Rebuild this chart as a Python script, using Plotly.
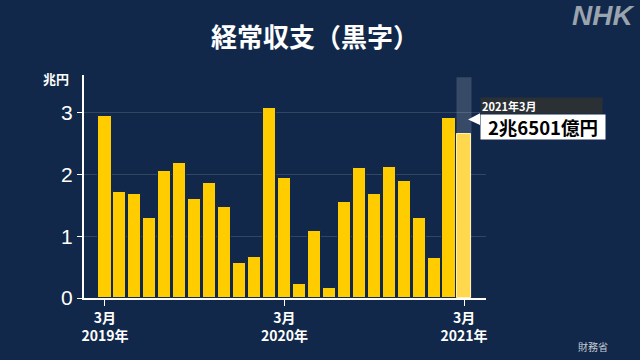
import plotly.graph_objects as go

months = list(range(25))  # 2019-03 .. 2021-03
values = [2.94, 1.71, 1.69, 1.30, 2.06, 2.18, 1.60, 1.86, 1.47, 0.56, 0.67,
          3.07, 1.94, 0.22, 1.08, 0.16, 1.55, 2.10, 1.68, 2.12, 1.90, 1.29,
          0.65, 2.92, 2.6501]
tick_vals = [0, 12, 24]
tick_text = ["<b>3月</b><br><b>2019年</b>", "<b>3月</b><br><b>2020年</b>", "<b>3月</b><br><b>2021年</b>"]
y_ticks = [0, 1, 2, 3]

BG = "#11284a"
FONT = "Noto Sans CJK JP"

colors = ["#ffcc00"] * (len(values) - 1) + ["#ffd84d"]
line_colors = [BG] * (len(values) - 1) + ["#fff2c0"]

fig = go.Figure()
fig.add_trace(go.Bar(
    x=months, y=values, width=0.88,
    marker=dict(color=colors, line=dict(color=line_colors, width=1)),
    hoverinfo="skip",
))

last_x = months[-1]
fig.add_shape(type="rect", xref="x", yref="paper", x0=last_x - 0.5, x1=last_x + 0.5,
              y0=0, y1=0.99, fillcolor="rgba(255,255,255,0.16)", line_width=0, layer="below")

fig.update_layout(
    width=640, height=360,
    paper_bgcolor=BG, plot_bgcolor=BG,
    margin=dict(l=84, r=154, t=75, b=62),
    showlegend=False,
    bargap=0,
    font=dict(family=FONT, color="white"),
    xaxis=dict(range=[-1.4, 25.47], tickvals=tick_vals, ticktext=tick_text,
               ticks="outside", ticklen=6, tickcolor="white", tickwidth=1,
               showline=True, linecolor="white", linewidth=2, showgrid=False,
               zeroline=False, tickfont=dict(size=14, color="white", family=FONT)),
    yaxis=dict(range=[0, 3.61], tickvals=y_ticks, ticks="outside", ticklen=5,
               tickcolor="white", showline=True, linecolor="white", linewidth=2,
               gridcolor="rgba(255,255,255,0.14)", gridwidth=1, zeroline=False,
               tickfont=dict(size=21, color="white", family="Liberation Sans")),
)

fig.add_shape(type="path", xref="x", yref="y",
              path="M 24.27 2.89 L 25.07 2.99 L 25.07 2.80 Z",
              fillcolor="white", line_width=0)

fig.add_annotation(xref="x", yref="y", x=last_x, y=3.11, xshift=16,
                   xanchor="left", yanchor="middle", text="<b>2021年3月</b>",
                   showarrow=False, bgcolor="#2b3035", width=119, height=13,
                   borderpad=1, align="left",
                   font=dict(size=11, color="white", family=FONT))
fig.add_annotation(xref="x", yref="y", x=last_x, y=2.77, xshift=16,
                   xanchor="left", yanchor="middle",
                   text="<b>2兆6501億円</b>",
                   showarrow=False, bgcolor="white", width=122, height=22,
                   borderpad=1, align="center",
                   font=dict(size=18.5, color="black", family=FONT))

fig.add_annotation(xref="paper", yref="paper", x=0.575, y=1.0, yshift=40,
                   yanchor="middle", text="<b>経常収支（黒字）</b>", showarrow=False,
                   font=dict(size=26, color="white", family=FONT))
fig.add_annotation(xref="paper", yref="paper", x=1.0, y=1.0, xshift=150,
                   yshift=60, xanchor="right", yanchor="middle",
                   text="<b><i>NHK</i></b>", showarrow=False,
                   font=dict(size=28, color="#9aa3ae", family="Liberation Sans"))
fig.add_annotation(xref="paper", yref="paper", x=0, y=1.0, xshift=-28, yshift=-3,
                   xanchor="center", yanchor="middle", text="<b>兆円</b>",
                   showarrow=False, font=dict(size=13, color="white", family=FONT))
fig.add_annotation(xref="paper", yref="paper", x=1.0, y=0, xshift=107, yshift=-48,
                   xanchor="center", yanchor="middle", text="財務省",
                   showarrow=False, font=dict(size=10, color="#c6cbd3", family=FONT))

fig.write_html("out.html")
